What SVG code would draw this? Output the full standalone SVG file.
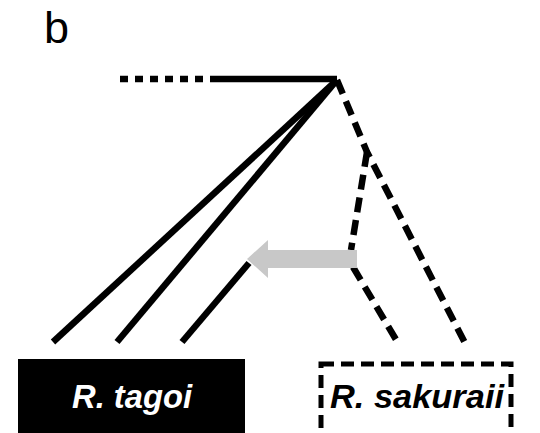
<svg xmlns="http://www.w3.org/2000/svg" width="540" height="433" viewBox="0 0 540 433">
  <style>
    .solid { stroke: #000; stroke-width: 6.5; fill: none; stroke-linecap: butt; }
    .dash { stroke: #000; stroke-width: 6.5; fill: none; stroke-dasharray: 15 8; }
    .dot { stroke: #000; stroke-width: 6.5; fill: none; stroke-dasharray: 8 7; }
    .label { font-family: "Liberation Sans", Arial, sans-serif; font-weight: bold; font-style: italic; font-size: 33px; text-anchor: middle; }
  </style>
  <rect width="540" height="433" fill="#fff"/>
  <text x="44" y="43" font-family="Liberation Sans, Arial, sans-serif" font-size="45">b</text>

  <g id="connectors">
    <!-- root stem -->
    <path class="dot" d="M120 79 H218"/>
    <path class="solid" d="M218 79 H337"/>
    <!-- R. tagoi lineages -->
    <path class="solid" d="M337 80 L53 342"/>
    <path class="solid" d="M337 80 L117 342"/>
    <path class="solid" d="M249 263 L182 342"/>
    <!-- R. sakuraii lineages -->
    <path class="dash" d="M337 80 L367 152 L465 343"/>
    <path class="dash" d="M367 152 L351 250"/>
    <path class="dash" d="M353 267 L398 343"/>
    <!-- introgression arrow -->
    <polygon fill="#c8c8c8" points="357,250 268,250 268,240 247,259 268,278 268,268 357,268"/>
  </g>

  <g id="tagoi">
    <rect x="18" y="359" width="227" height="74" fill="#000"/>
    <text class="label" x="132" y="408" fill="#fff" textLength="120" lengthAdjust="spacingAndGlyphs">R. tagoi</text>
  </g>
  <g id="sakuraii">
    <rect x="321" y="364" width="190" height="72" fill="#fff" stroke="#000" stroke-width="5" stroke-dasharray="13 7"/>
    <text class="label" x="417" y="408" fill="#000" textLength="174" lengthAdjust="spacingAndGlyphs">R. sakuraii</text>
  </g>
</svg>
